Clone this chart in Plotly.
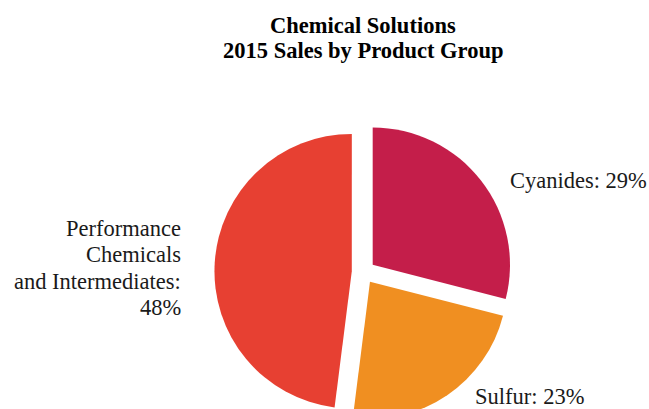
import plotly.graph_objects as go

# ---- data ----
categories = ["Cyanides", "Sulfur", "Performance Chemicals and Intermediates"]
shares = [29, 23, 48]
slice_colors = ["#C41E4A", "#F08F21", "#E74032"]
title_lines = ["Chemical Solutions", "2015 Sales by Product Group"]
# label lines as shown on the chart
label_lines = [
    [f"{categories[0]}: {shares[0]}%"],
    [f"{categories[1]}: {shares[1]}%"],
    ["Performance", "Chemicals", "and Intermediates:", f"{shares[2]}%"],
]

# ---- layout geometry (pixels) ----
W, H = 649, 421
T, B = 123, 0
PH = H - T - B
FONT = "Liberation Serif, Times New Roman, Times, serif"


def px(x):
    return x / W


def py(y):
    return (H - B - y) / PH


fig = go.Figure(
    go.Pie(
        labels=categories,
        values=shares,
        sort=False,
        direction="clockwise",
        rotation=0,
        pull=[0.085, 0.085, 0.085],
        marker=dict(colors=slice_colors, line=dict(width=0)),
        textinfo="none",
        hoverinfo="label+percent",
        domain=dict(x=[0.33, 0.79], y=[0, 1]),
        showlegend=False,
    )
)

ann = []
# title
for i, t in enumerate(title_lines):
    ann.append(dict(text=f"<b>{t}</b>", x=px(363), y=py(26 + 25 * i), xref="paper", yref="paper",
                    xanchor="center", yanchor="middle", showarrow=False,
                    font=dict(family=FONT, size=22.5, color="#000000")))

# labels: (anchor x, first line center y, xanchor)
label_pos = [(508, 180, "left"), (473, 396, "left"), (183, 228, "right")]
for lines, (lx, ly, xa) in zip(label_lines, label_pos):
    for j, line in enumerate(lines):
        ann.append(dict(text=line, x=px(lx), y=py(ly + 26.5 * j), xref="paper", yref="paper",
                        xanchor=xa, yanchor="middle", showarrow=False,
                        font=dict(family=FONT, size=22.5, color="#1a1a1a")))

fig.update_layout(
    width=W,
    height=H,
    margin=dict(l=0, r=0, t=T, b=B, pad=0),
    paper_bgcolor="white",
    plot_bgcolor="white",
    annotations=ann,
)

fig.write_html(
    "out.html",
    config={"displayModeBar": False},
    post_script="document.body.style.margin='0';document.body.style.overflow='hidden';document.documentElement.style.overflow='hidden';",
)
